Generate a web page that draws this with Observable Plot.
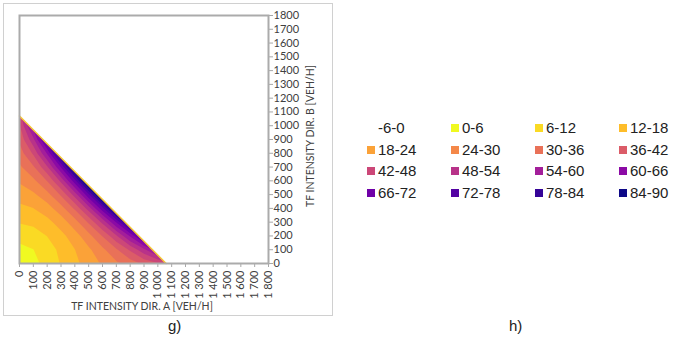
<!DOCTYPE html>
<html>
<head>
<meta charset="utf-8">
<script src="https://cdn.jsdelivr.net/npm/d3@7"></script>
<script src="https://cdn.jsdelivr.net/npm/@observablehq/plot@0.6"></script>
<style>
  html, body { margin: 0; padding: 0; background: #fff; }
  #root { position: relative; width: 685px; height: 337px; overflow: hidden; font-family: "Liberation Sans", Arial, sans-serif; }
  #box { position: absolute; left: 3px; top: 3px; width: 330px; height: 313px; border: 1px solid #d0d0d0; box-sizing: border-box; }
  #chart { position: absolute; left: 0; top: 0; }
  #chart svg g[aria-label="x-axis tick"], #chart svg g[aria-label="y-axis tick"],
  #chart svg g[aria-label="x-axis tick"] *, #chart svg g[aria-label="y-axis tick"] *,
  #chart svg g[aria-label="x-axis"] .tick line, #chart svg g[aria-label="y-axis"] .tick line { stroke: #a8a8a8; }
  .axt { position: absolute; font-family: Lato, sans-serif; font-size: 10.5px; color: #404040; white-space: nowrap; line-height: 12px; }
  #xt { left: 142px; top: 300px; transform: translateX(-50%); }
  #yt { left: 310px; top: 136px; transform: translate(-50%, -50%) rotate(-90deg); }
  .cap { position: absolute; font-size: 15px; line-height: 15px; color: #222; }
  #legend { position: absolute; left: 365px; top: 117px; }
  .item { position: absolute; height: 22px; font-size: 15px; line-height: 22px; color: #222; white-space: nowrap; }
  .sw { position: absolute; left: 2px; top: 7px; width: 8px; height: 8px; }
  .lab { position: absolute; left: 13px; top: 0; }
</style>
</head>
<body>
<div id="root">
  <div id="box"></div>
  <div id="chart"></div>
  <div class="axt" id="xt">TF INTENSITY DIR. A [VEH/H]</div>
  <div class="axt" id="yt">TF INTENSITY DIR. B [VEH/H]</div>
  <div id="legend"></div>
  <div class="cap" style="left:168px; top:318px;">g)</div>
  <div class="cap" style="left:509px; top:318px;">h)</div>
</div>
<script>
// ---- data ----
const xTicks = [0,100,200,300,400,500,600,700,800,900,1000,1100,1200,1300,1400,1500,1600,1700,1800];
const yTicks = [0,100,200,300,400,500,600,700,800,900,1000,1100,1200,1300,1400,1500,1600,1700,1800];
const axisDomain = [0, 1800];

// sample grid (intensity A along columns, intensity B along rows)
const gridA = [0,100,200,300,400,500,600,700,800,900,1000,1100];
const gridB = [0,100,200,300,400,500,600,700,800,900,1000,1100];
const delayRows = [
  [0.0, 4.1, 8.3, 12.4, 16.5, 20.7, 24.8, 28.9, 33.0, 37.2, 41.3, 45.4],
  [4.1, 5.9, 9.3, 13.4, 17.9, 22.9, 28.6, 35.2, 43.0, 52.4, 63.7, 77.2],
  [8.3, 9.3, 12.1, 16.1, 21.3, 28.0, 36.3, 47.1, 60.7, 78.0, 99, 99],
  [12.4, 13.4, 16.1, 20.8, 27.5, 36.9, 49.5, 66.4, 88.5, 99, 99, 99],
  [16.5, 17.9, 21.3, 27.5, 37.0, 50.7, 69.7, 95.3, 99, 99, 99, 99],
  [20.7, 22.9, 28.0, 36.9, 50.7, 70.8, 98.7, 99, 99, 99, 99, 99],
  [24.8, 28.6, 36.3, 49.5, 69.7, 98.7, 99, 99, 99, 99, 99, 99],
  [28.9, 35.2, 47.1, 66.4, 95.3, 99, 99, 99, 99, 99, 99, 99],
  [33.0, 43.0, 60.7, 88.5, 99, 99, 99, 99, 99, 99, 99, 99],
  [37.2, 52.4, 78.0, 99, 99, 99, 99, 99, 99, 99, 99, 99],
  [41.3, 63.7, 99, 99, 99, 99, 99, 99, 99, 99, 99, 99],
  [45.4, 77.2, 99, 99, 99, 99, 99, 99, 99, 99, 99, 99]
];
// capacity boundary (intercepts on both axes)
const capacityEdge = [{a: 0, b: 1070}, {a: 1060, b: 0}];

// legend classes
const bandLabels = ["-6-0","0-6","6-12","12-18","18-24","24-30","30-36","36-42","42-48","48-54","54-60","60-66","66-72","72-78","78-84","84-90"];
const bandLower = [-6,0,6,12,18,24,30,36,42,48,54,60,66,72,78,84];

// ---- build ----
const colors = d3.quantize(d3.interpolatePlasma, bandLower.length - 1).reverse();
const thresholds = bandLower.slice(1);
const step = gridA[1] - gridA[0];
const values = delayRows.flat();
const mask = [...capacityEdge, {a: axisDomain[1], b: 0}];

const fmtX = d3.formatLocale({decimal: ",", thousands: " ", grouping: [3]}).format(",d");

const plot = Plot.plot({
  width: 300,
  height: 300,
  marginLeft: 19,
  marginRight: 32,
  marginTop: 15,
  marginBottom: 37,
  style: {fontFamily: "Lato, sans-serif", fontSize: "11px", color: "#404040", background: "transparent"},
  x: {domain: axisDomain, ticks: xTicks, tickFormat: fmtX, tickRotate: -90, tickSize: 4, tickPadding: 3, label: null},
  y: {domain: axisDomain, axis: "right", ticks: yTicks, tickFormat: d => String(d), tickSize: 4, tickPadding: 1, label: null},
  color: {type: "threshold", domain: bandLower.slice(2), range: colors},
  marks: [
    Plot.contour(values, {
      width: gridA.length,
      height: gridB.length,
      x1: gridA[0] - step / 2,
      x2: gridA[gridA.length - 1] + step / 2,
      y1: gridB[0] - step / 2,
      y2: gridB[gridB.length - 1] + step / 2,
      fill: Plot.identity,
      thresholds,
      clip: true
    }),
    Plot.areaY(mask, {x: "a", y1: "b", y2: () => axisDomain[1], fill: "white", clip: true}),
    Plot.line(capacityEdge, {x: "a", y: "b", stroke: "#f6c935", strokeWidth: 1.5}),
    Plot.frame({stroke: "#ababab", strokeWidth: 2})
  ]
});
document.getElementById("chart").appendChild(plot);

// legend
const legend = document.getElementById("legend");
const colW = 84, rowH = 21.7, nCols = 4;
bandLabels.forEach((lab, k) => {
  const item = document.createElement("div");
  item.className = "item";
  item.style.left = (k % nCols) * colW + "px";
  item.style.top = Math.floor(k / nCols) * rowH + "px";
  if (k > 0) {
    const sw = document.createElement("div");
    sw.className = "sw";
    sw.style.background = colors[k - 1];
    item.appendChild(sw);
  }
  const t = document.createElement("div");
  t.className = "lab";
  t.textContent = lab;
  item.appendChild(t);
  legend.appendChild(item);
});
</script>
</body>
</html>
